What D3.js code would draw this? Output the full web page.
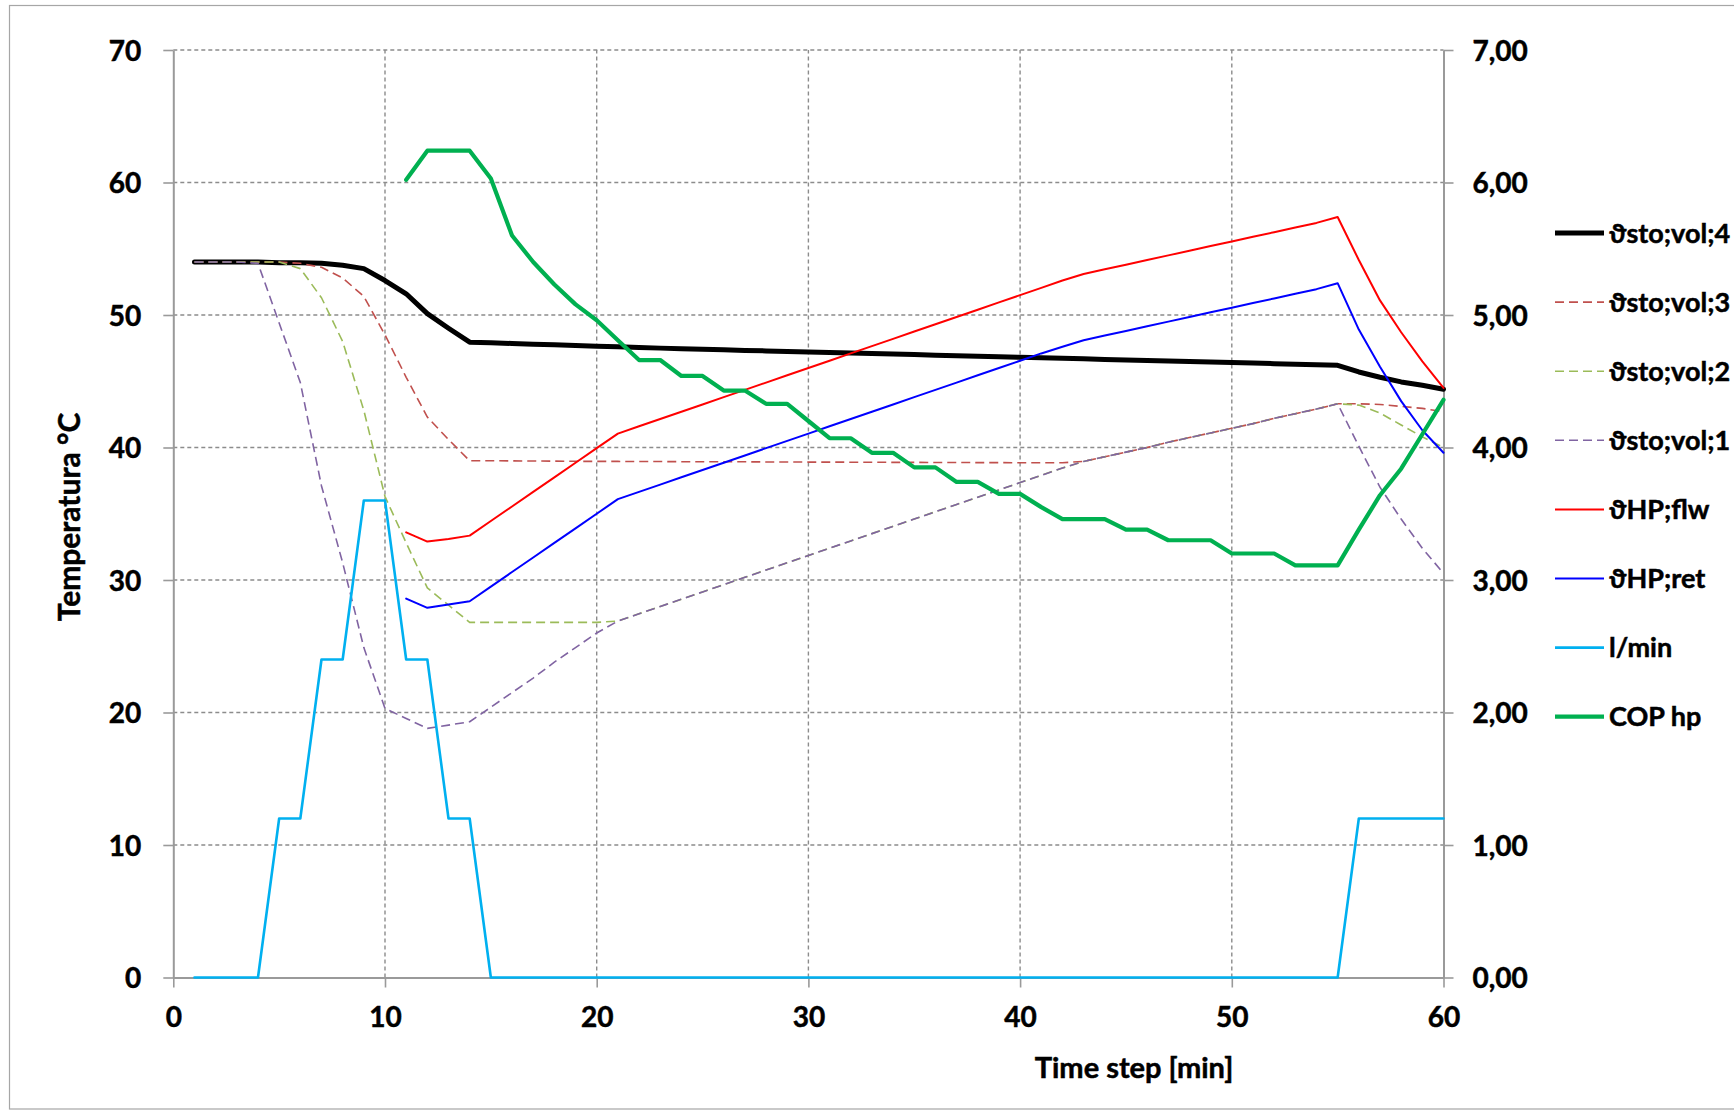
<!DOCTYPE html>
<html><head><meta charset="utf-8">
<script src="https://cdn.jsdelivr.net/npm/d3@7"></script>
<style>
body{margin:0;background:#fff;}
text{font-family:Lato,'Noto Sans',sans-serif;font-weight:700;fill:#000;stroke:#000;stroke-width:0.5px;}
</style>
</head><body>
<svg id="chart" width="1734" height="1113"></svg>
<script>
// ---- data ----
const timeSteps = [1,2,3,4,5,6,7,8,9,10,11,12,13,14,15,16,17,18,19,20,21,22,23,24,25,26,27,28,29,30,
  31,32,33,34,35,36,37,38,39,40,41,42,43,44,45,46,47,48,49,50,51,52,53,54,55,56,57,58,59,60];
const xTicks = [0,10,20,30,40,50,60];
const yLeftTicks = [0,10,20,30,40,50,60,70];
const yRightTicks = [0,1,2,3,4,5,6,7];
const yRightLabels = ["0,00","1,00","2,00","3,00","4,00","5,00","6,00","7,00"];
const seriesNames = ["ϑsto;vol;4","ϑsto;vol;3","ϑsto;vol;2","ϑsto;vol;1","ϑHP;flw","ϑHP;ret","l/min","COP hp"];
const xTitle = "Time step [min]";
const yTitle = "Temperatura °C";

const sto4 = [54.0,54.0,54.0,54.0,53.95,53.95,53.9,53.75,53.5,52.6,
  51.6,50.1,49.0,47.95,47.9,47.85,47.8,47.75,47.7,47.65,
  47.6,47.55,47.5,47.45,47.41,47.37,47.33,47.29,47.25,47.21,
  47.17,47.13,47.09,47.05,47.01,46.97,46.93,46.89,46.85,46.81,
  46.77,46.73,46.69,46.65,46.61,46.57,46.53,46.49,46.45,46.41,
  46.37,46.33,46.29,46.25,46.2,45.7,45.3,44.95,44.7,44.4];
const sto3 = [54.0,54.0,54.0,54.0,54.0,53.9,53.6,52.8,51.4,48.5,
  45.3,42.3,40.6,39.0,39.0,38.99,38.98,38.97,38.96,38.95,
  38.95,38.94,38.94,38.93,38.93,38.92,38.92,38.91,38.91,38.9,
  38.9,38.89,38.89,38.88,38.88,38.87,38.87,38.86,38.86,38.85,
  38.85,38.85,38.95,39.3,39.65,40.0,40.4,40.75,41.1,41.45,
  41.8,42.2,42.55,42.9,43.3,43.3,43.25,43.1,42.95,42.7];
const sto2 = [54.0,54.0,54.0,54.0,54.0,53.5,51.3,48.0,42.8,36.3,
  32.8,29.4,28.1,26.8,26.8,26.8,26.8,26.8,26.8,26.8,
  26.9,27.45,28.0,28.55,29.1,29.65,30.2,30.75,31.3,31.85,
  32.4,32.95,33.5,34.05,34.6,35.15,35.7,36.25,36.8,37.35,
  37.9,38.45,38.95,39.3,39.65,40.0,40.4,40.75,41.1,41.45,
  41.8,42.2,42.55,42.9,43.3,43.2,42.6,41.7,40.8,40.0];
const sto1 = [54.0,54.0,54.0,53.9,49.4,44.9,37.1,31.3,24.9,20.3,
  19.55,18.8,19.05,19.3,20.4,21.5,22.6,23.8,24.9,26.0,
  26.9,27.45,28.0,28.55,29.1,29.65,30.2,30.75,31.3,31.85,
  32.4,32.95,33.5,34.05,34.6,35.15,35.7,36.25,36.8,37.35,
  37.9,38.45,38.95,39.3,39.65,40.0,40.4,40.75,41.1,41.45,
  41.8,42.2,42.55,42.9,43.3,40.1,37.0,34.6,32.4,30.5];
const hpFlw = [null,null,null,null,null,null,null,null,null,null,
  33.6,32.9,33.1,33.35,34.45,35.55,36.65,37.75,38.85,39.95,
  41.05,41.6,42.15,42.7,43.25,43.8,44.35,44.9,45.45,46.0,
  46.55,47.1,47.65,48.2,48.75,49.3,49.85,50.4,50.95,51.5,
  52.05,52.6,53.1,53.45,53.8,54.15,54.5,54.85,55.2,55.55,
  55.9,56.25,56.6,56.95,57.4,54.15,51.1,48.7,46.5,44.5];
const hpRet = [null,null,null,null,null,null,null,null,null,null,
  28.6,27.9,28.15,28.4,29.5,30.6,31.7,32.8,33.9,35.0,
  36.1,36.65,37.2,37.75,38.3,38.85,39.4,39.95,40.5,41.05,
  41.6,42.15,42.7,43.25,43.8,44.35,44.9,45.45,46.0,46.55,
  47.1,47.6,48.1,48.45,48.8,49.15,49.5,49.85,50.2,50.55,
  50.9,51.25,51.6,51.95,52.4,48.9,46.1,43.5,41.3,39.6];
const flowLmin = [0,0,0,0,12,12,24,24,36,36,
  24,24,12,12,0,0,0,0,0,0,
  0,0,0,0,0,0,0,0,0,0,
  0,0,0,0,0,0,0,0,0,0,
  0,0,0,0,0,0,0,0,0,0,
  0,0,0,0,0,12,12,12,12,12];
const copHp = [null,null,null,null,null,null,null,null,null,null,
  6.02,6.24,6.24,6.24,6.03,5.60,5.40,5.23,5.08,4.96,
  4.81,4.66,4.66,4.54,4.54,4.43,4.43,4.33,4.33,4.20,
  4.07,4.07,3.96,3.96,3.85,3.85,3.74,3.74,3.65,3.65,
  3.55,3.46,3.46,3.46,3.38,3.38,3.30,3.30,3.30,3.20,
  3.20,3.20,3.11,3.11,3.11,3.38,3.64,3.84,4.10,4.36];

// ---- styles ----
const styles = [
  {color:"#000000", width:5,   dash:null,  axis:"L"},
  {color:"#C0504D", width:1.6, dash:"9,5", axis:"L"},
  {color:"#9BBB59", width:1.6, dash:"9,5", axis:"L"},
  {color:"#8064A2", width:1.6, dash:"9,5", axis:"L"},
  {color:"#FF0000", width:2,   dash:null,  axis:"L"},
  {color:"#0000FF", width:2,   dash:null,  axis:"L"},
  {color:"#00B0F0", width:2.6, dash:null,  axis:"L"},
  {color:"#00B050", width:4.2, dash:null,  axis:"R"}
];
const seriesValues = [sto4, sto3, sto2, sto1, hpFlw, hpRet, flowLmin, copHp];

// ---- layout ----
const X0 = 173.3, X1 = 1443.5, Y0 = 977.5, Y1 = 50;
const svg = d3.select("#chart");

svg.append("rect").attr("x",9.5).attr("y",5.5).attr("width",1800).attr("height",1103.5)
  .attr("fill","#fff").attr("stroke","#a6a6a6").attr("stroke-width",1.2);

const x = d3.scaleLinear().domain([0,60]).range([X0,X1]);
const yL = d3.scaleLinear().domain([0,70]).range([Y0,Y1]);
const yR = d3.scaleLinear().domain([0,7]).range([Y0,Y1]);

// gridlines
const grid = svg.append("g").attr("stroke","#8c8c8c").attr("stroke-width",1.4).attr("stroke-dasharray","4,3");
grid.selectAll("line.h").data(yLeftTicks.filter(d=>d>0)).join("line")
  .attr("x1",X0).attr("x2",X1).attr("y1",d=>yL(d)).attr("y2",d=>yL(d));
grid.selectAll("line.v").data(xTicks.filter(d=>d>0&&d<60)).join("line")
  .attr("y1",Y0).attr("y2",Y1).attr("x1",d=>x(d)).attr("x2",d=>x(d));

function styleAxis(g){
  g.select(".domain").attr("stroke","#9a9a9a").attr("stroke-width",2);
  g.selectAll(".tick line").attr("stroke","#9a9a9a").attr("stroke-width",1.6);
  g.selectAll("text").attr("font-size",28).attr("font-family","Lato,'Noto Sans',sans-serif")
    .attr("font-weight",700).attr("fill","#000").attr("stroke","#000").attr("stroke-width",0.5);
}

const axL = svg.append("g").attr("transform",`translate(${X0},0)`)
  .call(d3.axisLeft(yL).tickValues(yLeftTicks).tickSize(10).tickSizeOuter(0).tickPadding(22));
styleAxis(axL);
axL.selectAll("text").attr("dy","0.36em");

const axR = svg.append("g").attr("transform",`translate(${X1},0)`)
  .call(d3.axisRight(yR).tickValues(yRightTicks).tickSize(10).tickSizeOuter(0).tickPadding(19)
    .tickFormat((d,i)=>yRightLabels[i]));
styleAxis(axR);
axR.selectAll("text").attr("dy","0.36em");

const axB = svg.append("g").attr("transform",`translate(0,${Y0})`)
  .call(d3.axisBottom(x).tickValues(xTicks).tickSize(10).tickSizeOuter(0).tickPadding(0));
styleAxis(axB);
axB.selectAll("text").attr("y",39).attr("dy","0.36em");

// titles
svg.append("text").attr("x",1134).attr("y",1068).attr("dy","0.36em").attr("text-anchor","middle")
  .attr("font-size",29).text(xTitle);
svg.append("text").attr("transform","translate(69,517) rotate(-90)").attr("dy","0.36em")
  .attr("text-anchor","middle").attr("font-size",30).text(yTitle);

// series
const plot = svg.append("g");
seriesValues.forEach((vals,i)=>{
  const st = styles[i];
  const ys = st.axis==="L" ? yL : yR;
  const line = d3.line().defined(d=>d[1]!==null).x(d=>x(d[0])).y(d=>ys(d[1]));
  const pts = timeSteps.map((t,j)=>[t, vals[j]]);
  plot.append("path").datum(pts).attr("d",line)
    .attr("fill","none").attr("stroke",st.color).attr("stroke-width",st.width)
    .attr("stroke-linejoin","round").attr("stroke-linecap", st.dash ? "butt" : "round")
    .attr("stroke-dasharray", st.dash);
});

// legend
const legY0 = 233, legStep = 69.1;
const leg = svg.append("g");
seriesNames.forEach((name,i)=>{
  const st = styles[i];
  const y = legY0 + i*legStep;
  leg.append("line").attr("x1",1555).attr("x2",1604).attr("y1",y).attr("y2",y)
    .attr("stroke",st.color).attr("stroke-width",st.width).attr("stroke-dasharray",st.dash);
  leg.append("text").attr("x",1609).attr("y",y).attr("dy","0.36em").attr("font-size",27).text(name);
});
</script>
</body></html>
